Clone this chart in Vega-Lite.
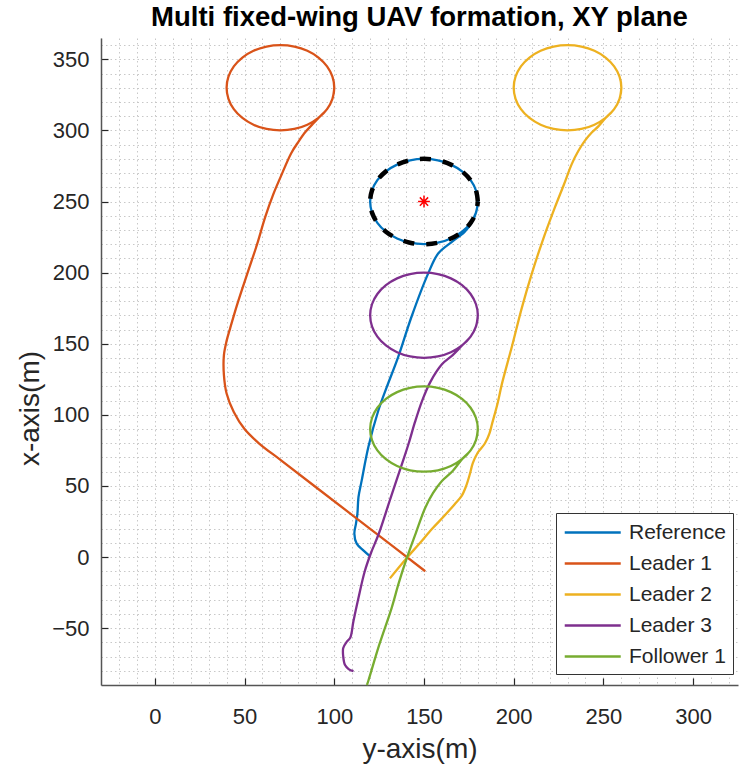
{
  "$schema": "https://vega.github.io/schema/vega-lite/v6.json",
  "width": 637,
  "height": 647,
  "padding": {"left": 16, "top": 3, "right": 3, "bottom": 5},
  "background": "white",
  "title": {"text": "Multi fixed-wing UAV formation, XY plane", "font": "Liberation Sans", "fontSize": 27.5, "fontWeight": "bold", "color": "#000000", "anchor": "middle", "offset": 3},
  "config": {"view": {"stroke": null}},
  "datasets": {
    "traj": [
      {"s": "Reference", "i": 1, "h": 120, "v": 0.5},
      {"s": "Reference", "i": 2, "h": 116.2, "v": 4.7},
      {"s": "Reference", "i": 3, "h": 112.5, "v": 9.4},
      {"s": "Reference", "i": 4, "h": 111.2, "v": 16.4},
      {"s": "Reference", "i": 5, "h": 112.1, "v": 23.5},
      {"s": "Reference", "i": 6, "h": 112.9, "v": 30.5},
      {"s": "Reference", "i": 7, "h": 113.5, "v": 42.2},
      {"s": "Reference", "i": 8, "h": 115.3, "v": 53.9},
      {"s": "Reference", "i": 9, "h": 119, "v": 77.4},
      {"s": "Reference", "i": 10, "h": 124.6, "v": 103.2},
      {"s": "Reference", "i": 11, "h": 129.4, "v": 120},
      {"s": "Reference", "i": 12, "h": 135.6, "v": 140.6},
      {"s": "Reference", "i": 13, "h": 143, "v": 168.8},
      {"s": "Reference", "i": 14, "h": 152.3, "v": 199.3},
      {"s": "Reference", "i": 15, "h": 157.9, "v": 213.4},
      {"s": "Reference", "i": 16, "h": 165.4, "v": 221.5},
      {"s": "Reference", "i": 17, "h": 172.5, "v": 228.5},
      {"s": "Reference", "i": 18, "h": 176.5, "v": 235},
      {"s": "Reference", "i": 19, "h": 178.98, "v": 242.24},
      {"s": "Reference", "i": 20, "h": 180, "v": 250},
      {"s": "Reference", "i": 21, "h": 178.98, "v": 257.76},
      {"s": "Reference", "i": 22, "h": 175.98, "v": 265},
      {"s": "Reference", "i": 23, "h": 171.21, "v": 271.21},
      {"s": "Reference", "i": 24, "h": 165, "v": 275.98},
      {"s": "Reference", "i": 25, "h": 157.76, "v": 278.98},
      {"s": "Reference", "i": 26, "h": 150, "v": 280},
      {"s": "Reference", "i": 27, "h": 142.24, "v": 278.98},
      {"s": "Reference", "i": 28, "h": 135, "v": 275.98},
      {"s": "Reference", "i": 29, "h": 128.79, "v": 271.21},
      {"s": "Reference", "i": 30, "h": 124.02, "v": 265},
      {"s": "Reference", "i": 31, "h": 121.02, "v": 257.76},
      {"s": "Reference", "i": 32, "h": 120, "v": 250},
      {"s": "Reference", "i": 33, "h": 121.02, "v": 242.24},
      {"s": "Reference", "i": 34, "h": 124.02, "v": 235},
      {"s": "Reference", "i": 35, "h": 128.79, "v": 228.79},
      {"s": "Reference", "i": 36, "h": 135, "v": 224.02},
      {"s": "Reference", "i": 37, "h": 142.24, "v": 221.02},
      {"s": "Reference", "i": 38, "h": 150, "v": 220},
      {"s": "Reference", "i": 39, "h": 157.76, "v": 221.02},
      {"s": "Reference", "i": 40, "h": 165, "v": 224.02},
      {"s": "Reference", "i": 41, "h": 171.21, "v": 228.79},
      {"s": "Reference", "i": 42, "h": 175.98, "v": 235},
      {"s": "Reference", "i": 43, "h": 178.98, "v": 242.24},
      {"s": "Reference", "i": 44, "h": 180, "v": 250},

      {"s": "Leader 1", "i": 1, "h": 150.7, "v": -10},
      {"s": "Leader 1", "i": 2, "h": 120, "v": 19.8},
      {"s": "Leader 1", "i": 3, "h": 90, "v": 48.9},
      {"s": "Leader 1", "i": 4, "h": 70, "v": 68.3},
      {"s": "Leader 1", "i": 5, "h": 58, "v": 80},
      {"s": "Leader 1", "i": 6, "h": 50, "v": 90},
      {"s": "Leader 1", "i": 7, "h": 44, "v": 102},
      {"s": "Leader 1", "i": 8, "h": 40, "v": 115},
      {"s": "Leader 1", "i": 9, "h": 38.5, "v": 128},
      {"s": "Leader 1", "i": 10, "h": 38.5, "v": 142},
      {"s": "Leader 1", "i": 11, "h": 40, "v": 152},
      {"s": "Leader 1", "i": 12, "h": 42, "v": 161},
      {"s": "Leader 1", "i": 13, "h": 46, "v": 178},
      {"s": "Leader 1", "i": 14, "h": 52, "v": 201},
      {"s": "Leader 1", "i": 15, "h": 57, "v": 220},
      {"s": "Leader 1", "i": 16, "h": 61.5, "v": 239},
      {"s": "Leader 1", "i": 17, "h": 66, "v": 255},
      {"s": "Leader 1", "i": 18, "h": 70, "v": 267},
      {"s": "Leader 1", "i": 19, "h": 76, "v": 284},
      {"s": "Leader 1", "i": 20, "h": 80, "v": 292},
      {"s": "Leader 1", "i": 21, "h": 84, "v": 299},
      {"s": "Leader 1", "i": 22, "h": 88, "v": 304.5},
      {"s": "Leader 1", "i": 23, "h": 91.21, "v": 308.79},
      {"s": "Leader 1", "i": 24, "h": 95.98, "v": 315},
      {"s": "Leader 1", "i": 25, "h": 98.98, "v": 322.24},
      {"s": "Leader 1", "i": 26, "h": 100, "v": 330},
      {"s": "Leader 1", "i": 27, "h": 98.98, "v": 337.76},
      {"s": "Leader 1", "i": 28, "h": 95.98, "v": 345},
      {"s": "Leader 1", "i": 29, "h": 91.21, "v": 351.21},
      {"s": "Leader 1", "i": 30, "h": 85, "v": 355.98},
      {"s": "Leader 1", "i": 31, "h": 77.76, "v": 358.98},
      {"s": "Leader 1", "i": 32, "h": 70, "v": 360},
      {"s": "Leader 1", "i": 33, "h": 62.24, "v": 358.98},
      {"s": "Leader 1", "i": 34, "h": 55, "v": 355.98},
      {"s": "Leader 1", "i": 35, "h": 48.79, "v": 351.21},
      {"s": "Leader 1", "i": 36, "h": 44.02, "v": 345},
      {"s": "Leader 1", "i": 37, "h": 41.02, "v": 337.76},
      {"s": "Leader 1", "i": 38, "h": 40, "v": 330},
      {"s": "Leader 1", "i": 39, "h": 41.02, "v": 322.24},
      {"s": "Leader 1", "i": 40, "h": 44.02, "v": 315},
      {"s": "Leader 1", "i": 41, "h": 48.79, "v": 308.79},
      {"s": "Leader 1", "i": 42, "h": 55, "v": 304.02},
      {"s": "Leader 1", "i": 43, "h": 62.24, "v": 301.02},
      {"s": "Leader 1", "i": 44, "h": 70, "v": 300},
      {"s": "Leader 1", "i": 45, "h": 77.76, "v": 301.02},
      {"s": "Leader 1", "i": 46, "h": 85, "v": 304.02},
      {"s": "Leader 1", "i": 47, "h": 91.21, "v": 308.79},
      {"s": "Leader 1", "i": 48, "h": 95.98, "v": 315},
      {"s": "Leader 1", "i": 49, "h": 98.98, "v": 322.24},
      {"s": "Leader 1", "i": 50, "h": 100, "v": 330},

      {"s": "Leader 2", "i": 1, "h": 131, "v": -15},
      {"s": "Leader 2", "i": 2, "h": 140.5, "v": -0.5},
      {"s": "Leader 2", "i": 3, "h": 147.5, "v": 9.5},
      {"s": "Leader 2", "i": 4, "h": 154.4, "v": 19.7},
      {"s": "Leader 2", "i": 5, "h": 161, "v": 28.5},
      {"s": "Leader 2", "i": 6, "h": 167, "v": 37},
      {"s": "Leader 2", "i": 7, "h": 171, "v": 43},
      {"s": "Leader 2", "i": 8, "h": 173.5, "v": 50},
      {"s": "Leader 2", "i": 9, "h": 175.5, "v": 58},
      {"s": "Leader 2", "i": 10, "h": 177.2, "v": 66},
      {"s": "Leader 2", "i": 11, "h": 180, "v": 73.5},
      {"s": "Leader 2", "i": 12, "h": 184, "v": 80},
      {"s": "Leader 2", "i": 13, "h": 186.5, "v": 87},
      {"s": "Leader 2", "i": 14, "h": 188, "v": 94},
      {"s": "Leader 2", "i": 15, "h": 191, "v": 108},
      {"s": "Leader 2", "i": 16, "h": 193.4, "v": 121.6},
      {"s": "Leader 2", "i": 17, "h": 199, "v": 148},
      {"s": "Leader 2", "i": 18, "h": 204.6, "v": 175.6},
      {"s": "Leader 2", "i": 19, "h": 210, "v": 199},
      {"s": "Leader 2", "i": 20, "h": 216, "v": 222},
      {"s": "Leader 2", "i": 21, "h": 223, "v": 246},
      {"s": "Leader 2", "i": 22, "h": 228, "v": 262},
      {"s": "Leader 2", "i": 23, "h": 232.4, "v": 276.5},
      {"s": "Leader 2", "i": 24, "h": 236, "v": 285.5},
      {"s": "Leader 2", "i": 25, "h": 239.8, "v": 293},
      {"s": "Leader 2", "i": 26, "h": 243.5, "v": 298.5},
      {"s": "Leader 2", "i": 27, "h": 247.3, "v": 303},
      {"s": "Leader 2", "i": 28, "h": 251.21, "v": 308.79},
      {"s": "Leader 2", "i": 29, "h": 255.98, "v": 315},
      {"s": "Leader 2", "i": 30, "h": 258.98, "v": 322.24},
      {"s": "Leader 2", "i": 31, "h": 260, "v": 330},
      {"s": "Leader 2", "i": 32, "h": 258.98, "v": 337.76},
      {"s": "Leader 2", "i": 33, "h": 255.98, "v": 345},
      {"s": "Leader 2", "i": 34, "h": 251.21, "v": 351.21},
      {"s": "Leader 2", "i": 35, "h": 245, "v": 355.98},
      {"s": "Leader 2", "i": 36, "h": 237.76, "v": 358.98},
      {"s": "Leader 2", "i": 37, "h": 230, "v": 360},
      {"s": "Leader 2", "i": 38, "h": 222.24, "v": 358.98},
      {"s": "Leader 2", "i": 39, "h": 215, "v": 355.98},
      {"s": "Leader 2", "i": 40, "h": 208.79, "v": 351.21},
      {"s": "Leader 2", "i": 41, "h": 204.02, "v": 345},
      {"s": "Leader 2", "i": 42, "h": 201.02, "v": 337.76},
      {"s": "Leader 2", "i": 43, "h": 200, "v": 330},
      {"s": "Leader 2", "i": 44, "h": 201.02, "v": 322.24},
      {"s": "Leader 2", "i": 45, "h": 204.02, "v": 315},
      {"s": "Leader 2", "i": 46, "h": 208.79, "v": 308.79},
      {"s": "Leader 2", "i": 47, "h": 215, "v": 304.02},
      {"s": "Leader 2", "i": 48, "h": 222.24, "v": 301.02},
      {"s": "Leader 2", "i": 49, "h": 230, "v": 300},
      {"s": "Leader 2", "i": 50, "h": 237.76, "v": 301.02},
      {"s": "Leader 2", "i": 51, "h": 245, "v": 304.02},
      {"s": "Leader 2", "i": 52, "h": 251.21, "v": 308.79},
      {"s": "Leader 2", "i": 53, "h": 255.98, "v": 315},
      {"s": "Leader 2", "i": 54, "h": 258.98, "v": 322.24},
      {"s": "Leader 2", "i": 55, "h": 260, "v": 330},

      {"s": "Leader 3", "i": 1, "h": 110.7, "v": -80.3},
      {"s": "Leader 3", "i": 2, "h": 108, "v": -78.8},
      {"s": "Leader 3", "i": 3, "h": 106, "v": -76},
      {"s": "Leader 3", "i": 4, "h": 105, "v": -70},
      {"s": "Leader 3", "i": 5, "h": 105, "v": -64},
      {"s": "Leader 3", "i": 6, "h": 107, "v": -59.5},
      {"s": "Leader 3", "i": 7, "h": 108.9, "v": -56.8},
      {"s": "Leader 3", "i": 8, "h": 110.7, "v": -45},
      {"s": "Leader 3", "i": 9, "h": 113.5, "v": -28.6},
      {"s": "Leader 3", "i": 10, "h": 117, "v": -10},
      {"s": "Leader 3", "i": 11, "h": 120.5, "v": 3},
      {"s": "Leader 3", "i": 12, "h": 124.7, "v": 16},
      {"s": "Leader 3", "i": 13, "h": 131, "v": 40},
      {"s": "Leader 3", "i": 14, "h": 137.7, "v": 65.3},
      {"s": "Leader 3", "i": 15, "h": 141.5, "v": 80},
      {"s": "Leader 3", "i": 16, "h": 145, "v": 95},
      {"s": "Leader 3", "i": 17, "h": 149, "v": 110},
      {"s": "Leader 3", "i": 18, "h": 153.5, "v": 123},
      {"s": "Leader 3", "i": 19, "h": 160, "v": 135.5},
      {"s": "Leader 3", "i": 20, "h": 166, "v": 142},
      {"s": "Leader 3", "i": 21, "h": 171.21, "v": 148.79},
      {"s": "Leader 3", "i": 22, "h": 175.98, "v": 155},
      {"s": "Leader 3", "i": 23, "h": 178.98, "v": 162.24},
      {"s": "Leader 3", "i": 24, "h": 180, "v": 170},
      {"s": "Leader 3", "i": 25, "h": 178.98, "v": 177.76},
      {"s": "Leader 3", "i": 26, "h": 175.98, "v": 185},
      {"s": "Leader 3", "i": 27, "h": 171.21, "v": 191.21},
      {"s": "Leader 3", "i": 28, "h": 165, "v": 195.98},
      {"s": "Leader 3", "i": 29, "h": 157.76, "v": 198.98},
      {"s": "Leader 3", "i": 30, "h": 150, "v": 200},
      {"s": "Leader 3", "i": 31, "h": 142.24, "v": 198.98},
      {"s": "Leader 3", "i": 32, "h": 135, "v": 195.98},
      {"s": "Leader 3", "i": 33, "h": 128.79, "v": 191.21},
      {"s": "Leader 3", "i": 34, "h": 124.02, "v": 185},
      {"s": "Leader 3", "i": 35, "h": 121.02, "v": 177.76},
      {"s": "Leader 3", "i": 36, "h": 120, "v": 170},
      {"s": "Leader 3", "i": 37, "h": 121.02, "v": 162.24},
      {"s": "Leader 3", "i": 38, "h": 124.02, "v": 155},
      {"s": "Leader 3", "i": 39, "h": 128.79, "v": 148.79},
      {"s": "Leader 3", "i": 40, "h": 135, "v": 144.02},
      {"s": "Leader 3", "i": 41, "h": 142.24, "v": 141.02},
      {"s": "Leader 3", "i": 42, "h": 150, "v": 140},
      {"s": "Leader 3", "i": 43, "h": 157.76, "v": 141.02},
      {"s": "Leader 3", "i": 44, "h": 165, "v": 144.02},
      {"s": "Leader 3", "i": 45, "h": 171.21, "v": 148.79},
      {"s": "Leader 3", "i": 46, "h": 175.98, "v": 155},
      {"s": "Leader 3", "i": 47, "h": 178.98, "v": 162.24},
      {"s": "Leader 3", "i": 48, "h": 180, "v": 170},

      {"s": "Follower 1", "i": 1, "h": 118.2, "v": -90},
      {"s": "Follower 1", "i": 2, "h": 119, "v": -87},
      {"s": "Follower 1", "i": 3, "h": 125, "v": -62},
      {"s": "Follower 1", "i": 4, "h": 132, "v": -35.7},
      {"s": "Follower 1", "i": 5, "h": 136, "v": -18},
      {"s": "Follower 1", "i": 6, "h": 140.5, "v": -0.5},
      {"s": "Follower 1", "i": 7, "h": 145.5, "v": 17},
      {"s": "Follower 1", "i": 8, "h": 150.7, "v": 34.7},
      {"s": "Follower 1", "i": 9, "h": 155, "v": 45},
      {"s": "Follower 1", "i": 10, "h": 160, "v": 53.5},
      {"s": "Follower 1", "i": 11, "h": 166, "v": 60.5},
      {"s": "Follower 1", "i": 12, "h": 171.21, "v": 68.79},
      {"s": "Follower 1", "i": 13, "h": 175.98, "v": 75},
      {"s": "Follower 1", "i": 14, "h": 178.98, "v": 82.24},
      {"s": "Follower 1", "i": 15, "h": 180, "v": 90},
      {"s": "Follower 1", "i": 16, "h": 178.98, "v": 97.76},
      {"s": "Follower 1", "i": 17, "h": 175.98, "v": 105},
      {"s": "Follower 1", "i": 18, "h": 171.21, "v": 111.21},
      {"s": "Follower 1", "i": 19, "h": 165, "v": 115.98},
      {"s": "Follower 1", "i": 20, "h": 157.76, "v": 118.98},
      {"s": "Follower 1", "i": 21, "h": 150, "v": 120},
      {"s": "Follower 1", "i": 22, "h": 142.24, "v": 118.98},
      {"s": "Follower 1", "i": 23, "h": 135, "v": 115.98},
      {"s": "Follower 1", "i": 24, "h": 128.79, "v": 111.21},
      {"s": "Follower 1", "i": 25, "h": 124.02, "v": 105},
      {"s": "Follower 1", "i": 26, "h": 121.02, "v": 97.76},
      {"s": "Follower 1", "i": 27, "h": 120, "v": 90},
      {"s": "Follower 1", "i": 28, "h": 121.02, "v": 82.24},
      {"s": "Follower 1", "i": 29, "h": 124.02, "v": 75},
      {"s": "Follower 1", "i": 30, "h": 128.79, "v": 68.79},
      {"s": "Follower 1", "i": 31, "h": 135, "v": 64.02},
      {"s": "Follower 1", "i": 32, "h": 142.24, "v": 61.02},
      {"s": "Follower 1", "i": 33, "h": 150, "v": 60},
      {"s": "Follower 1", "i": 34, "h": 157.76, "v": 61.02},
      {"s": "Follower 1", "i": 35, "h": 165, "v": 64.02},
      {"s": "Follower 1", "i": 36, "h": 171.21, "v": 68.79},
      {"s": "Follower 1", "i": 37, "h": 175.98, "v": 75},
      {"s": "Follower 1", "i": 38, "h": 178.98, "v": 82.24},
      {"s": "Follower 1", "i": 39, "h": 180, "v": 90}
    ],
    "dash": [
      {"i": 1, "h": 180, "v": 250},
      {"i": 2, "h": 178.98, "v": 257.76},
      {"i": 3, "h": 175.98, "v": 265},
      {"i": 4, "h": 171.21, "v": 271.21},
      {"i": 5, "h": 165, "v": 275.98},
      {"i": 6, "h": 157.76, "v": 278.98},
      {"i": 7, "h": 150, "v": 280},
      {"i": 8, "h": 142.24, "v": 278.98},
      {"i": 9, "h": 135, "v": 275.98},
      {"i": 10, "h": 128.79, "v": 271.21},
      {"i": 11, "h": 124.02, "v": 265},
      {"i": 12, "h": 121.02, "v": 257.76},
      {"i": 13, "h": 120, "v": 250},
      {"i": 14, "h": 121.02, "v": 242.24},
      {"i": 15, "h": 124.02, "v": 235},
      {"i": 16, "h": 128.79, "v": 228.79},
      {"i": 17, "h": 135, "v": 224.02},
      {"i": 18, "h": 142.24, "v": 221.02},
      {"i": 19, "h": 150, "v": 220},
      {"i": 20, "h": 157.76, "v": 221.02},
      {"i": 21, "h": 165, "v": 224.02},
      {"i": 22, "h": 171.21, "v": 228.79},
      {"i": 23, "h": 175.98, "v": 235},
      {"i": 24, "h": 178.98, "v": 242.24},
      {"i": 25, "h": 180, "v": 250}
    ],
    "star": [{"h": 150, "v": 250}]
  },
  "layer": [
    {
      "data": {"name": "traj"},
      "mark": {"type": "line", "strokeWidth": 2.3, "interpolate": "catmull-rom"},
      "encoding": {
        "x": {
          "field": "h", "type": "quantitative",
          "scale": {"domain": [-30, 325], "nice": false, "zero": false},
          "axis": {"title": "y-axis(m)",
            "values": [-30, -20, -10, 0, 10, 20, 30, 40, 50, 60, 70, 80, 90, 100, 110, 120, 130, 140, 150, 160, 170, 180, 190, 200, 210, 220, 230, 240, 250, 260, 270, 280, 290, 300, 310, 320],
            "tickCount": 200, "labelOverlap": false, "labelFlush": false,
            "labelExpr": "datum.value % 50 === 0 ? datum.label : ''",
            "grid": true, "gridColor": "#c8c8c8", "gridDash": [1.5, 3], "gridWidth": 1,
            "domainColor": "#555555", "domainWidth": 1.5,
            "ticks": true, "tickSize": -7, "tickColor": "#262626", "tickWidth": 1.2,
            "tickOpacity": {"condition": {"test": "datum.value % 50 === 0", "value": 1}, "value": 0},
            "labelFont": "Liberation Sans", "labelFontSize": 22, "labelColor": "#262626", "labelPadding": 28,
            "titleFont": "Liberation Sans", "titleFontSize": 28, "titleFontWeight": "normal", "titleColor": "#262626",
            "titlePadding": 8}
        },
        "y": {
          "field": "v", "type": "quantitative",
          "scale": {"domain": [-90, 365], "nice": false, "zero": false},
          "axis": {"title": "x-axis(m)",
            "values": [-90, -80, -70, -60, -50, -40, -30, -20, -10, 0, 10, 20, 30, 40, 50, 60, 70, 80, 90, 100, 110, 120, 130, 140, 150, 160, 170, 180, 190, 200, 210, 220, 230, 240, 250, 260, 270, 280, 290, 300, 310, 320, 330, 340, 350, 360],
            "tickCount": 200, "labelOverlap": false, "labelFlush": false,
            "labelExpr": "datum.value % 50 === 0 ? datum.label : ''",
            "grid": true, "gridColor": "#c8c8c8", "gridDash": [1.5, 3], "gridWidth": 1,
            "domainColor": "#555555", "domainWidth": 1.5,
            "ticks": true, "tickSize": -7, "tickColor": "#262626", "tickWidth": 1.2,
            "tickOpacity": {"condition": {"test": "datum.value % 50 === 0", "value": 1}, "value": 0},
            "labelFont": "Liberation Sans", "labelFontSize": 22, "labelColor": "#262626", "labelPadding": 19,
            "titleFont": "Liberation Sans", "titleFontSize": 28, "titleFontWeight": "normal", "titleColor": "#262626",
            "titleX": -71, "titleY": 370, "titleAngle": 270, "titleAlign": "center", "titleBaseline": "middle"}
        },
        "color": {
          "field": "s", "type": "nominal",
          "scale": {"domain": ["Reference", "Leader 1", "Leader 2", "Leader 3", "Follower 1"], "range": ["#0072BD", "#D95319", "#EDB120", "#7E2F8E", "#77AC30"]},
          "legend": {"title": null, "orient": "none", "legendX": 455, "legendY": 475, "symbolType": "M-1,0H4.2", "symbolSize": 464, "symbolStrokeWidth": 2.5,
            "labelFont": "Liberation Sans", "labelFontSize": 21, "labelColor": "#262626", "labelOffset": 41,
            "fillColor": "white", "strokeColor": "#333333", "padding": 7, "rowPadding": 8}
        },
        "order": {"field": "i", "type": "quantitative"}
      }
    },
    {
      "data": {"name": "dash"},
      "mark": {"type": "line", "color": "black", "strokeWidth": 4.5, "strokeDash": [11, 12], "interpolate": "catmull-rom"},
      "encoding": {
        "x": {"field": "h", "type": "quantitative"},
        "y": {"field": "v", "type": "quantitative"},
        "order": {"field": "i", "type": "quantitative"}
      }
    },
    {
      "data": {"name": "star"},
      "mark": {"type": "point", "shape": "M-1,0L1,0M0,-1L0,1M-0.7,-0.7L0.7,0.7M-0.7,0.7L0.7,-0.7", "color": "#FF0000", "filled": false, "strokeWidth": 1.5, "size": 140, "opacity": 1},
      "encoding": {
        "x": {"field": "h", "type": "quantitative"},
        "y": {"field": "v", "type": "quantitative"}
      }
    }
  ]
}
